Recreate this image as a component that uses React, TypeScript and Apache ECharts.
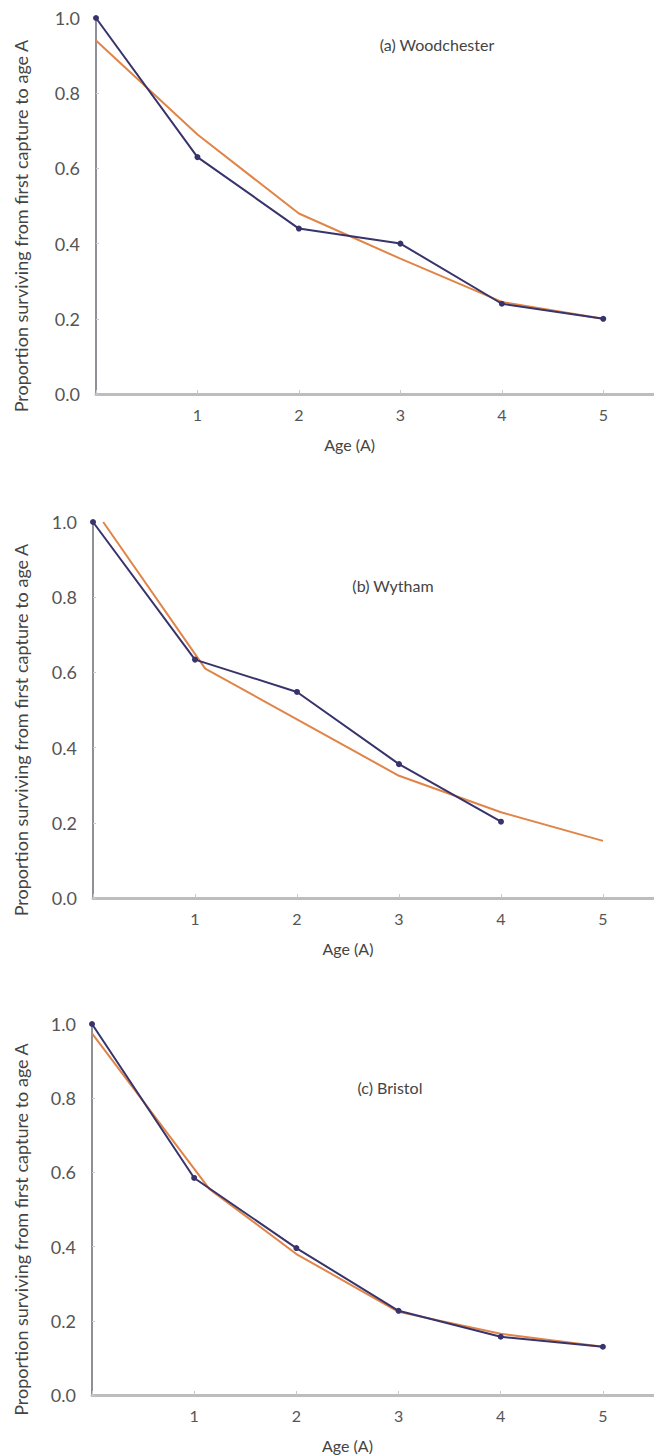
import React, { useEffect, useRef } from "react";
import * as echarts from "echarts";

// ---- data ----
const ages = [0, 1, 2, 3, 4, 5];
const woodchesterObserved = [1.0, 0.63, 0.44, 0.4, 0.24, 0.2];
const woodchesterFitted = [0.94, 0.69, 0.48, 0.36, 0.245, 0.2];

const wythamAges = [0, 1, 2, 3, 4];
const wythamObserved = [1.0, 0.634, 0.548, 0.356, 0.203];
const wythamFittedAges = [0.1, 1.1, 2, 3, 4, 5];
const wythamFitted = [1.0, 0.61, 0.475, 0.325, 0.228, 0.152];

const bristolObserved = [1.0, 0.585, 0.396, 0.227, 0.157, 0.13];
const bristolFittedAges = [0, 1.15, 2, 3, 4, 5];
const bristolFitted = [0.975, 0.555, 0.38, 0.224, 0.165, 0.13];

const panelTitles = ["(a) Woodchester", "(b) Wytham", "(c) Bristol"];
const xTitle = "Age (A)";
const yTitle = "Proportion surviving from first capture to age A";

const zip = (xs: number[], ys: number[]) => ys.map((y, i) => [xs[i], y]);

// ---- layout ----
const W = 654;
const H = 1455;
const FONT = "Lato, 'Open Sans', sans-serif";
const NAVY = "#37336b";
const ORANGE = "#e08447";
const grids = [
  { left: 96, top: 18, height: 376 },
  { left: 93, top: 522, height: 376 },
  { left: 92, top: 1024, height: 371 },
];
const XMAX = 5.5;

export default function App() {
  const ref = useRef<HTMLDivElement>(null);
  useEffect(() => {
    if (!ref.current) return;
    const chart = echarts.init(ref.current, undefined, { renderer: "svg" });

    const xAxes = grids.map((_, i) => ({
      type: "value",
      gridIndex: i,
      min: 0,
      max: XMAX,
      interval: 1,
      axisLine: { show: true, lineStyle: { color: "#bdbdbd", width: 3 } },
      axisTick: { show: true, inside: true, length: 4, lineStyle: { color: "#c8c8c8", width: 1 } },
      splitLine: { show: false },
      axisLabel: {
        color: "#555",
        fontFamily: FONT,
        fontSize: 16,
        margin: 12,
        showMaxLabel: false,
        formatter: (v: number) => (v > 0 && Number.isInteger(v) ? String(v) : ""),
      },
    }));
    const yAxes = grids.map((_, i) => ({
      type: "value",
      gridIndex: i,
      min: 0,
      max: 1,
      interval: 0.2,
      axisLine: { show: true, lineStyle: { color: "#6a6a78", width: 1.5 } },
      axisTick: { show: true, inside: true, length: 3, lineStyle: { color: "#c8c8d0" } },
      splitLine: { show: false },
      axisLabel: {
        color: "#555",
        fontFamily: FONT,
        fontSize: 18,
        margin: 16,
        formatter: (v: number) => v.toFixed(1),
      },
    }));

    const fitted = (i: number, data: number[][]) => ({
      type: "line",
      xAxisIndex: i,
      yAxisIndex: i,
      data,
      symbol: "none",
      lineStyle: { color: ORANGE, width: 2 },
      z: 2,
    });
    const observed = (i: number, data: number[][]) => ({
      type: "line",
      xAxisIndex: i,
      yAxisIndex: i,
      data,
      symbol: "circle",
      symbolSize: 6,
      showSymbol: true,
      itemStyle: { color: NAVY },
      lineStyle: { color: NAVY, width: 2 },
      z: 3,
    });

    const unit = (g: { left: number }) => (W - g.left) / XMAX;
    const yPix = (g: { top: number; height: number }, v: number) => g.top + (1 - v) * g.height;

    const titlePos = [
      { x: 437, v: 0.93 },
      { x: 393, v: 0.83 },
      { x: 390, v: 0.83 },
    ];

    const graphics: any[] = [];
    grids.forEach((g, i) => {
      graphics.push({
        type: "text",
        x: titlePos[i].x,
        y: yPix(g, titlePos[i].v),
        style: {
          text: panelTitles[i],
          fill: "#444",
          font: `16px ${FONT}`,
          textAlign: "center",
          textVerticalAlign: "middle",
        },
      });
      graphics.push({
        type: "text",
        x: g.left + 2.5 * unit(g),
        y: g.top + g.height + 50,
        style: {
          text: xTitle,
          fill: "#444",
          font: `16px ${FONT}`,
          textAlign: "center",
          textVerticalAlign: "middle",
        },
      });
      graphics.push({
        type: "text",
        x: 21,
        y: g.top + g.height / 2 + 20,
        rotation: Math.PI / 2,
        style: {
          text: yTitle,
          fill: "#444",
          font: `18px ${FONT}`,
          textAlign: "center",
          textVerticalAlign: "middle",
        },
      });
    });

    chart.setOption({
      animation: false,
      backgroundColor: "#ffffff",
      grid: grids.map((g) => ({ left: g.left, top: g.top, height: g.height, right: 0 })),
      xAxis: xAxes,
      yAxis: yAxes,
      series: [
        fitted(0, zip(ages, woodchesterFitted)),
        observed(0, zip(ages, woodchesterObserved)),
        fitted(1, zip(wythamFittedAges, wythamFitted)),
        observed(1, zip(wythamAges, wythamObserved)),
        fitted(2, zip(bristolFittedAges, bristolFitted)),
        observed(2, zip(ages, bristolObserved)),
      ],
      graphic: graphics,
    });
    return () => chart.dispose();
  }, []);
  return (
    <div
      ref={ref}
      style={{ position: "fixed", left: 0, top: 0, width: W, height: H, background: "#fff" }}
    />
  );
}
